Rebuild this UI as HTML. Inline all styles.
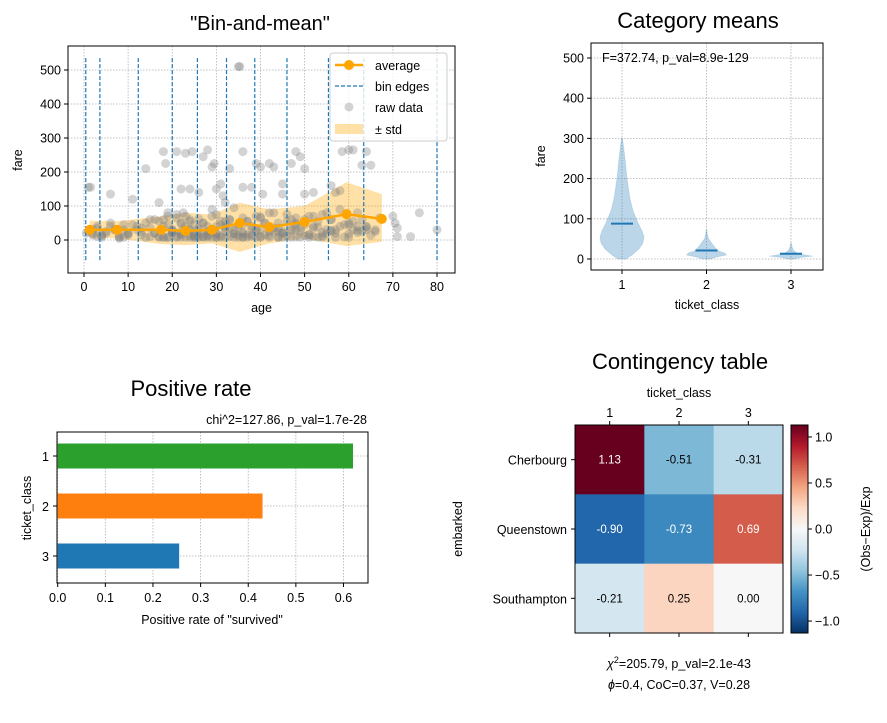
<!DOCTYPE html>
<html><head><meta charset="utf-8">
<style>
html,body{margin:0;padding:0;background:#fff;}
svg{display:block;font-family:"Liberation Sans","DejaVu Sans",sans-serif;}
</style></head>
<body>
<svg id="fig" width="887" height="723" viewBox="0 0 887 723" xmlns="http://www.w3.org/2000/svg">
<rect width="887" height="723" fill="#fff"/>
</svg>
<script>
// ---------- data: bin-and-mean ----------
const binMeanAge = [1.3, 7.5, 17.5, 23, 29, 35.3, 42, 50, 59.5, 67.5];
const binMeanFare = [30, 30, 30, 27, 30, 50, 38, 53, 76, 62];
const binStdUpper = [57, 55, 70, 80, 75, 110, 90, 100, 170, 135];
const binStdLower = [5, 5, -12, -15, -10, -35, -10, 5, -18, -5];
const binEdges = [0.4, 3.6, 12.3, 20, 25.7, 32.3, 38.7, 46, 55.4, 63.4, 80];
const rawAge = [0.5,1,2,1.5,3,4,6,8,9,11,14,15,17,18,18.5,19,21,22,22.5,23,24,24.5,26,27,28,29,29.5,30,31,31.5,32,33,35,35.3,36,36,38,39,40,40.5,42,43,45,45,47,48,49,50,50,52,55,56,57,58,58.5,60,61,62,63,64,65,67,70,70.5,71,71,74,76,80,
  2,5,8,10,12,15,16,18,19,20,21,22,23,24,25,26,27,28,29,30,31,32,33,34,35,36,37,38,39,40,41,42,43,44,45,46,47,48,49,50,51,52,53,54,55,56,58,60,62,64,66,
  3,6,9,13,16,17,19,20,21,22,23,24,25,26,27,28,30,31,32,33,34,36,37,39,40,42,44,45,47,48,50,51,53,54,56,57,59,61,63,65,
  2,4,7,11,14,18,20,22,24,25,26,28,29,30,33,35,36,38,41,43,46,48,52,55,58,62,
  1,3,5,7,9,10,12,13,15,16,17,18,19,20,21,22,23,24,25,26,27,28,29,30,31,32,33,34,35,36,37,38,39,40,41,42,43,44,45,46,47,48,49,50,51,52,53,54,56,57,59,60,61,62,63,64,66,
  4,8,14,17,19,21,22,23,24,25,26,27,28,29,30,31,32,34,35,36,37,39,40,42,44,45,47,49,51,54,57,60,
  6,10,13,18,20,22,24,26,28,30,32,34,36,38,40,44,48,52,56,60,64];
const rawFare = [20,155,30,155,40,15,135,5,30,120,210,60,110,260,225,80,260,150,80,255,150,260,140,245,265,215,225,150,165,130,110,210,510,510,155,260,155,225,215,135,225,215,165,135,225,260,245,210,135,140,80,160,140,145,260,265,265,80,220,260,220,65,70,50,10,35,10,80,30,
  15,25,10,20,30,10,60,40,70,30,75,50,70,60,45,35,50,40,90,75,55,40,60,95,45,65,55,40,30,65,50,80,35,50,25,75,60,45,35,60,70,40,55,75,30,60,90,50,40,30,25,
  10,40,8,15,20,10,8,25,10,15,30,12,8,20,10,15,8,12,25,10,18,8,14,26,10,13,8,20,30,9,12,16,8,13,27,20,9,30,26,14,
  20,12,30,45,50,8,20,25,30,15,10,12,28,18,35,14,20,11,15,26,12,30,10,18,40,22,
  25,35,20,30,45,15,40,25,35,20,55,8,45,30,65,20,40,55,12,30,50,25,70,18,45,35,60,28,40,22,55,15,70,30,48,25,80,35,20,55,30,65,25,45,15,70,38,22,60,30,45,18,55,28,60,40,30,
  8,8,8,8,8,8,8,8,8,8,8,8,8,8,8,8,8,8,8,8,8,8,8,8,8,8,8,8,8,8,8,8,
  50,18,35,60,22,48,30,62,26,40,55,20,45,32,68,24,50,35,28,44,38];
// ---------- data: category means ----------
const violinCats = ["1","2","3"];
const violinMeans = [88, 21, 13];
const violinLevels = [[0,10,25,40,55,70,90,120,150,200,250,300],[0,5,10,15,20,30,40,50,60,72],[0,4,7,10,15,20,30,40]];
const violinWidths = [[4,10,17,21,22,20,16,11,8,5,3,0.5],[4,10,20,18,12,8,5,2,1,0.3],[3,10,22,14,6,3,1,0.3]];
const anovaText = "F=372.74, p_val=8.9e-129";
// ---------- data: positive rate ----------
const rateCats = ["1","2","3"];
const rateValues = [0.62, 0.43, 0.255];
const rateColors = ["#2ca02c","#ff7f0e","#1f77b4"];
const rateTicks = [0,0.1,0.2,0.3,0.4,0.5,0.6];
// ---------- data: contingency ----------
const ctRows = ["Cherbourg","Queenstown","Southampton"];
const ctCols = ["1","2","3"];
const ctValues = [[1.13,-0.51,-0.31],[-0.90,-0.73,0.69],[-0.21,0.25,-0.00]];
const cbTicks = [1.0,0.5,0.0,-0.5,-1.0];

const S = document.getElementById('fig');
const NS = "http://www.w3.org/2000/svg";
function mk(tag, attrs, parent, text){
  const e = document.createElementNS(NS, tag);
  for (const k in attrs) e.setAttribute(k, attrs[k]);
  if (text !== undefined) e.textContent = text;
  (parent||S).appendChild(e);
  return e;
}
function txt(x,y,s,size,anchor,parent,extra){
  return mk('text', Object.assign({x:x,y:y,'font-size':size,'text-anchor':anchor||'middle',fill:'#000'}, extra||{}), parent, s);
}
function grid(x1,y1,x2,y2,parent){ mk('line',{x1:x1,y1:y1,x2:x2,y2:y2,stroke:'#b0b0b0','stroke-width':0.8,'stroke-dasharray':'1.5,1.5'},parent); }

// ================== Panel 1: Bin-and-mean ==================
(function(){
  const g = mk('g',{});
  
  
  const L=68,R=455,T=46,B=273;
  const X = a => 84 + a*(437-84)/80;
  const Y = f => 240 - f*(240-70)/500;
  const t = txt(260,30,'"Bin-and-mean"',20,'middle',g);
  
  
  for (let a=0;a<=80;a+=10){ grid(X(a),T,X(a),B,g); mk('line',{x1:X(a),y1:B,x2:X(a),y2:B+4,stroke:'#000'},g); txt(X(a),B+18,String(a),12.5,'middle',g); }
  for (let f=0;f<=500;f+=100){ grid(L,Y(f),R,Y(f),g); mk('line',{x1:L-4,y1:Y(f),x2:L,y2:Y(f),stroke:'#000'},g); txt(L-7,Y(f)+4.5,String(f),12.5,'end',g); }
  let pts = binMeanAge.map((a,i)=>X(a)+','+Y(binStdUpper[i]));
  pts = pts.concat(binMeanAge.map((a,i)=>X(a)+','+Y(binStdLower[i])).reverse());
  const band = mk('polygon',{points:pts.join(' '),fill:'#ffa500','fill-opacity':0.35},g);
  
  
  rawAge.forEach((a,i)=>{
    const c = mk('circle',{cx:X(a),cy:Y(rawFare[i]),r:4.5,fill:'#808080','fill-opacity':0.35},g);
    
    
  });
  binEdges.forEach(e=>{
    const l = mk('line',{x1:X(e),y1:Y(535),x2:X(e),y2:Y(-65),stroke:'#1f77b4','stroke-width':1.2,'stroke-dasharray':'4,2'},g);
    
    
  });
  const pl = mk('polyline',{points:binMeanAge.map((a,i)=>X(a)+','+Y(binMeanFare[i])).join(' '),fill:'none',stroke:'#ffa500','stroke-width':2.5},g);
  
  
  binMeanAge.forEach((a,i)=>{
    const c = mk('circle',{cx:X(a),cy:Y(binMeanFare[i]),r:5,fill:'#ffa500'},g);
    
    
  });
  mk('rect',{x:L,y:T,width:R-L,height:B-T,fill:'none',stroke:'#000','stroke-width':1},g);
  const xl = txt((L+R)/2,312,'age',12.5,'middle',g);
   
  const yl = txt(22,160,'fare',12.5,'middle',g,{transform:'rotate(-90 22 160)'});
   
  const lg = mk('g',{},g);
  
  
  mk('rect',{x:330,y:53,width:117,height:88,rx:3,fill:'#fff','fill-opacity':0.8,stroke:'#ccc'},lg);
  mk('line',{x1:335,y1:65,x2:363,y2:65,stroke:'#ffa500','stroke-width':2.5},lg);
  mk('circle',{cx:349,cy:65,r:5,fill:'#ffa500'},lg);
  txt(375,70,'average',12.5,'start',lg);
  mk('line',{x1:335,y1:86,x2:363,y2:86,stroke:'#1f77b4','stroke-width':1.2,'stroke-dasharray':'4,2'},lg);
  txt(375,91,'bin edges',12.5,'start',lg);
  mk('circle',{cx:349,cy:107,r:4.5,fill:'#808080','fill-opacity':0.35},lg);
  txt(375,112,'raw data',12.5,'start',lg);
  mk('rect',{x:335,y:124,width:28,height:10,fill:'#ffa500','fill-opacity':0.35},lg);
  txt(375,134,'± std',12.5,'start',lg);
})();

// ================== Panel 2: Category means ==================
(function(){
  const g = mk('g',{});
  
  
  const L=591,R=823,T=43,B=270;
  const X = i => 622 + i*(791-622)/2;
  const Y = f => 259 - f*(259-58)/500;
  const t = txt(698,28,'Category means',22,'middle',g);
   
  violinCats.forEach((c,i)=>{ grid(X(i),T,X(i),B,g); mk('line',{x1:X(i),y1:B,x2:X(i),y2:B+4,stroke:'#000'},g); txt(X(i),B+19,c,12.5,'middle',g); });
  for (let f=0;f<=500;f+=100){ grid(L,Y(f),R,Y(f),g); mk('line',{x1:L-4,y1:Y(f),x2:L,y2:Y(f),stroke:'#000'},g); txt(L-7,Y(f)+4.5,String(f),12.5,'end',g); }
  violinCats.forEach((c,i)=>{
    const lv = violinLevels[i], w = violinWidths[i];
    let d = 'M'+(X(i)+w[0])+','+Y(lv[0]);
    for (let k=1;k<lv.length;k++) d += ' L'+(X(i)+w[k])+','+Y(lv[k]);
    for (let k=lv.length-1;k>=0;k--) d += ' L'+(X(i)-w[k])+','+Y(lv[k]);
    d+='Z';
    const v = mk('path',{d:d,fill:'#1f77b4','fill-opacity':0.3,stroke:'#1f77b4','stroke-opacity':0.15},g);
    
    
    const m = mk('line',{x1:X(i)-11,y1:Y(violinMeans[i]),x2:X(i)+11,y2:Y(violinMeans[i]),stroke:'#1f77b4','stroke-width':2},g);
    
    
  });
  mk('rect',{x:L,y:T,width:R-L,height:B-T,fill:'none',stroke:'#000'},g);
  const a = txt(602,62,anovaText,12.5,'start',g);
   
  const xl = txt(707,309,'ticket_class',12.5,'middle',g);
   
  const yl = txt(545,156,'fare',12.5,'middle',g,{transform:'rotate(-90 545 156)'});
   
})();

// ================== Panel 3: Positive rate ==================
(function(){
  const g = mk('g',{});
  
  
  const L=57,R=368,T=432,B=583;
  const X = v => 57.7 + v*(343.5-57.7)/0.6;
  const Yc = i => 456 + i*50;
  const t = txt(191,396,'Positive rate',22,'middle',g);
   
  const s = txt(367,424,'chi^2=127.86, p_val=1.7e-28',12.5,'end',g);
   
  rateTicks.forEach(v=>{ grid(X(v),T,X(v),B,g); mk('line',{x1:X(v),y1:B,x2:X(v),y2:B+4,stroke:'#000'},g); txt(X(v),B+19,v.toFixed(1),12.5,'middle',g); });
  rateCats.forEach((c,i)=>{
    grid(L,Yc(i),R,Yc(i),g);
    const b = mk('rect',{x:X(0),y:Yc(i)-12.5,width:X(rateValues[i])-X(0),height:25,fill:rateColors[i]},g);
    
    
    mk('line',{x1:L-4,y1:Yc(i),x2:L,y2:Yc(i),stroke:'#000'},g);
    txt(L-8,Yc(i)+5,c,12.5,'end',g);
  });
  mk('rect',{x:L,y:T,width:R-L,height:B-T,fill:'none',stroke:'#000'},g);
  const xl = txt(212,624,'Positive rate of "survived"',12.5,'middle',g);
   
  const yl = txt(31,508,'ticket_class',12.5,'middle',g,{transform:'rotate(-90 31 508)'});
   
})();

// ================== Panel 4: Contingency table ==================
(function(){
  const g = mk('g',{});
  
  
  const L=575,T=425,W=208/3,VMAX=1.13;
  const stops = [[-1,[5,48,97]],[-0.8,[33,102,172]],[-0.6,[67,147,195]],[-0.4,[146,197,222]],[-0.2,[209,229,240]],[0,[247,247,247]],[0.2,[253,219,199]],[0.4,[244,165,130]],[0.6,[214,96,77]],[0.8,[178,24,43]],[1,[103,0,31]]];
  function col(v){
    let n = Math.max(-1,Math.min(1,v/VMAX));
    for (let k=0;k<stops.length-1;k++){
      const [a,ca]=stops[k],[b,cb]=stops[k+1];
      if (n>=a && n<=b){ const t=(n-a)/(b-a); return 'rgb('+ca.map((x,j)=>Math.round(x+(cb[j]-x)*t)).join(',')+')'; }
    }
    return 'rgb(247,247,247)';
  }
  const t = txt(680,369,'Contingency table',22,'middle',g);
   
  const xt = txt(679,397,'ticket_class',12.5,'middle',g);
   
  ctValues.forEach((row,r)=>row.forEach((v,c)=>{
    const cell = mk('rect',{x:L+c*W,y:T+r*W,width:W+0.5,height:W+0.5,fill:col(v)},g);
    
    
    txt(L+c*W+W/2,T+r*W+W/2+4,v.toFixed(2),11.5,'middle',g,{fill:Math.abs(v)>0.6?'#fff':'#000'});
  }));
  ctCols.forEach((c,i)=>{
    const x=L+i*W+W/2;
    mk('line',{x1:x,y1:T-4,x2:x,y2:T,stroke:'#000'},g);
    mk('line',{x1:x,y1:T+3*W,x2:x,y2:T+3*W+4,stroke:'#000'},g);
    txt(x,T-8,c,12.5,'middle',g);
  });
  ctRows.forEach((rn,i)=>{
    const y=T+i*W+W/2;
    mk('line',{x1:L-4,y1:y,x2:L,y2:y,stroke:'#000'},g);
    txt(L-8,y+5,rn,12.5,'end',g);
  });
  mk('rect',{x:L,y:T,width:3*W,height:3*W,fill:'none',stroke:'#000'},g);
  const yl = txt(462,529,'embarked',12.5,'middle',g,{transform:'rotate(-90 462 529)'});
   
  const cb = mk('g',{},g);
  
  
  const CX=791,CW=17,CT=425,CB=633;
  for (let k=0;k<104;k++){
    const v = VMAX - (k+0.5)*(2*VMAX)/104;
    mk('rect',{x:CX,y:CT+k*2,width:CW,height:2.2,fill:col(v)},cb);
  }
  mk('rect',{x:CX,y:CT,width:CW,height:CB-CT,fill:'none',stroke:'#000'},cb);
  const CY = v => (CT+CB)/2 - v*(CB-CT)/(2*VMAX);
  cbTicks.forEach(v=>{
    mk('line',{x1:CX+CW,y1:CY(v),x2:CX+CW+4,y2:CY(v),stroke:'#000'},cb);
    txt(CX+CW+7,CY(v)+4.5,(v<0?'−':'')+Math.abs(v).toFixed(1),12.5,'start',cb);
  });
  const cl = txt(870,529,'(Obs−Exp)/Exp',12.5,'middle',g,{transform:'rotate(-90 870 529)'});
   
  const s1 = mk('text',{x:679,y:668,'font-size':12.5,'text-anchor':'middle'},g);
   
  mk('tspan',{'font-style':'italic'},s1,'χ');
  mk('tspan',{dy:-5,'font-size':9},s1,'2');
  mk('tspan',{dy:5},s1,'=205.79, p_val=2.1e-43');
  const s2 = mk('text',{x:679,y:689,'font-size':12.5,'text-anchor':'middle'},g);
   
  mk('tspan',{'font-style':'italic'},s2,'ϕ');
  mk('tspan',{},s2,'=0.4, CoC=0.37, V=0.28');
})();
</script>
</body></html>
